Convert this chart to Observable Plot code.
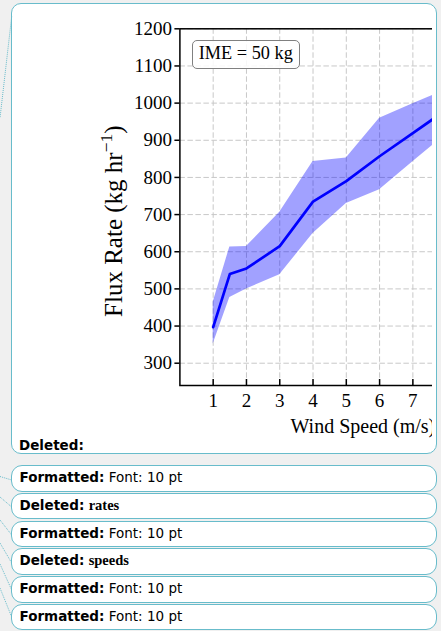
<!DOCTYPE html>
<html>
<head>
<meta charset="utf-8">
<script src="https://cdn.jsdelivr.net/npm/d3@7"></script>
<script src="https://cdn.jsdelivr.net/npm/@observablehq/plot@0.6"></script>
<style>
  html, body { margin: 0; padding: 0; }
  body { position: relative; width: 441px; height: 631px; overflow: hidden; background: #f0f0f0; }
  .pane { position: absolute; box-sizing: border-box; border: 1.5px solid #68bccb; background: #fff; }
  .main { left: 11px; top: 2.5px; width: 425.5px; height: 451px; border-radius: 10px; }
  .clip { position: absolute; left: 0; top: 0; width: 432px; height: 452px; overflow: hidden; }
  .clip svg { position: absolute; left: 0; top: 0; max-width: none !important; width: 470px !important; height: 445px !important; }
  .legend { position: absolute; left: 191.5px; top: 40px; width: 108.5px; height: 28.5px; box-sizing: border-box;
            border: 1.5px solid #808080; border-radius: 5px; background: rgba(255,255,255,0.85);
            font: 18.3px "Liberation Serif", serif; line-height: 25.5px; text-align: center; color: #000; }
  .note { position: absolute; left: 11px; width: 425.5px; height: 26.5px; border-radius: 11px;
          padding: 3px 0 0 7.5px; line-height: 21px; white-space: nowrap;
          font: 13.5px "DejaVu Sans", sans-serif; color: #000; }
  .note b, .tag { font-weight: bold; }
  .serifb { font: bold 14.5px "Liberation Serif", serif; }
  .tag { position: absolute; left: 19px; top: 436.5px; font: bold 13.5px "DejaVu Sans", sans-serif; line-height: 16px; }
  .links { position: absolute; left: 0; top: 0; }
</style>
</head>
<body>
<div class="pane main"></div>
<div class="clip" id="chart"></div>
<div class="tag">Deleted:</div>
<div id="notes"></div>
<svg class="links" id="links" width="441" height="631"></svg>
<script>
// Mean flux rate and its spread for each wind speed (IME = 50 kg)
const windSpeed = [1, 1.5, 2, 3, 4, 5, 6, 7, 8];
const fluxMean  = [397, 540, 555, 615, 735, 790, 857, 919, 982];
const fluxLow   = [352, 477, 500, 538, 649, 730, 767, 842, 917];
const fluxHigh  = [464, 613, 614, 706, 843, 852, 959, 998, 1036];

const xTicks = [1, 2, 3, 4, 5, 6, 7];
const yTicks = [300, 400, 500, 600, 700, 800, 900, 1000, 1100, 1200];

const legendText = "IME = 50 kg";
const xLabel = "Wind Speed (m/s)";
const yLabelMain = "Flux Rate (kg hr";
const yLabelSup = "\u22121";
const yLabelEnd = ")";

// Review-pane notes listed under the figure
const noteKinds = ["Formatted:", "Deleted:", "Formatted:", "Deleted:", "Formatted:", "Formatted:"];
const noteTexts = ["Font: 10 pt", "rates", "Font: 10 pt", "speeds", "Font: 10 pt", "Font: 10 pt"];

const rows = windSpeed.map((s, i) => ({speed: s, mean: fluxMean[i], low: fluxLow[i], high: fluxHigh[i]}));

const W = 470, H = 445;
const frameTop = 28.3, frameBottom = 385, frameLeft = 179.4, frameRight = 436;
const yLabelSize = 25;

const chart = Plot.plot({
  width: W,
  height: H,
  marginLeft: frameLeft,
  marginTop: frameTop,
  marginRight: W - frameRight,
  marginBottom: H - frameBottom,
  style: {fontFamily: "'Liberation Serif', serif", fontSize: "19px", background: "transparent", color: "#000"},
  x: {domain: [0, 7.71]},
  y: {domain: [240, 1200]},
  marks: [
    Plot.gridX(xTicks, {stroke: "#c8c8c8", strokeOpacity: 1, strokeWidth: 1, strokeDasharray: "5.5,2.5"}),
    Plot.gridY(yTicks, {stroke: "#c8c8c8", strokeOpacity: 1, strokeWidth: 1, strokeDasharray: "5.5,2.5"}),
    Plot.areaY(rows, {x: "speed", y1: "low", y2: "high", fill: "blue", fillOpacity: 0.37, clip: true}),
    Plot.lineY(rows, {x: "speed", y: "mean", stroke: "blue", strokeWidth: 2.7, clip: true}),
    Plot.frame({stroke: "#000", strokeWidth: 1.5}),
    Plot.axisY(yTicks, {tickSize: 5, tickPadding: 3, label: null, strokeWidth: 1.5, fontSize: 19, tickFormat: d => String(d)}),
    Plot.axisX(xTicks, {tickSize: 0, tickPadding: 8.2, label: null, fontSize: 19, tickFormat: d => String(d)}),
    // ticks on the bottom spine point into the plot area
    Plot.tickX(xTicks, {x: d => d, insetTop: frameBottom - frameTop - 6, stroke: "#000", strokeWidth: 1.5}),
    Plot.text([xLabel], {frameAnchor: "bottom-left", textAnchor: "start", dx: 110.6, dy: 47, fontSize: 20}),
    Plot.text([yLabelMain], {frameAnchor: "left", textAnchor: "middle", rotate: -90, dx: -66, dy: 14, fontSize: yLabelSize})
  ]
});

document.getElementById("chart").append(chart);

// superscript exponent on the y-axis label
const yText = d3.select(chart).selectAll("text").filter(function () { return this.textContent === yLabelMain; });
yText.append("tspan").attr("font-size", yLabelSize * 0.7).attr("dy", -yLabelSize * 0.4).text(yLabelSup);
yText.append("tspan").attr("font-size", yLabelSize).attr("dy", yLabelSize * 0.4).text(yLabelEnd);

// legend box
const legend = document.createElement("div");
legend.className = "legend";
legend.textContent = legendText;
document.getElementById("chart").append(legend);

// comment balloons
const noteTops = [465, 492.8, 520.5, 548.2, 576, 603.7];
const notes = d3.select("#notes");
noteKinds.forEach((kind, i) => {
  const div = notes.append("div").attr("class", "pane note").style("top", noteTops[i] + "px");
  div.append("b").text(kind);
  div.append("span").text(" ");
  if (kind === "Deleted:") div.append("span").attr("class", "serifb").text(noteTexts[i]);
  else div.append("span").text(noteTexts[i]);
});

// dotted connectors running off the left edge
const linkPaths = [
  [[11.7, 16.5], [0, 118]],
  [[0, 476.5], [11.7, 480]],
  [[0, 497], [11.7, 507]],
  [[0, 520], [11.7, 535]],
  [[0, 543], [11.7, 563]],
  [[0, 564], [11.7, 590]],
  [[0, 588], [11.7, 617]]
];
d3.select("#links").selectAll("path").data(linkPaths).join("path")
  .attr("d", d => d3.line()(d))
  .attr("fill", "none")
  .attr("stroke", "#68bccb")
  .attr("stroke-width", 1)
  .attr("stroke-dasharray", "1,1");
</script>
</body>
</html>
